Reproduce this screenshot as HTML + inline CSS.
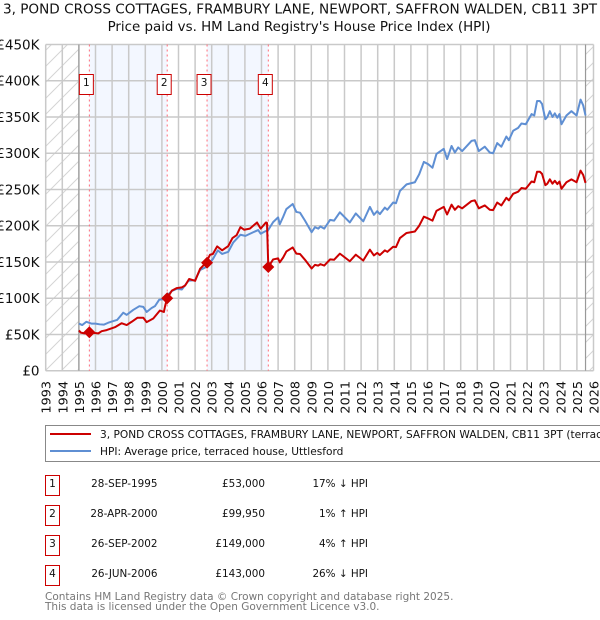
<!DOCTYPE html>
<html>
<head>
<meta charset="utf-8">
<title>Price paid vs. HPI</title>
<style>
html,body{margin:0;padding:0;background:#fff;}
body{width:600px;height:620px;overflow:hidden;position:relative;font-family:"DejaVu Sans","Liberation Sans",sans-serif;}
svg{position:absolute;left:0;top:0;}
text{font-family:"DejaVu Sans","Liberation Sans",sans-serif;fill:#111;}
</style>
</head>
<body>
<svg id="chart" width="600" height="620" viewBox="0 0 600 620" xmlns="http://www.w3.org/2000/svg">
  <defs>
    <pattern id="hatch" patternUnits="userSpaceOnUse" width="16" height="16">
      <path d="M-2 18L18 -2M-2 2L2 -2M14 18L18 14" stroke="#d4d4d4" stroke-width="1" fill="none"/>
    </pattern>
  </defs>
  <text x="300" y="13.5" text-anchor="middle" font-size="13.6">3, POND CROSS COTTAGES, FRAMBURY LANE, NEWPORT, SAFFRON WALDEN, CB11 3PT</text>
  <text x="299" y="31" text-anchor="middle" font-size="13.4">Price paid vs. HM Land Registry's House Price Index (HPI)</text>
  <g id="bands"></g>
  <g id="hatches"></g>
  <g id="grid"></g>
  <g id="ticks"></g>
  <g id="saleLines"></g>
  <g id="series"></g>
  <g id="markers"></g>

  <g>
    <rect x="45.5" y="425.5" width="560" height="36" fill="#fff" stroke="#888" stroke-width="1"/>
    <line x1="50" y1="434" x2="91" y2="434" stroke="#cc0000" stroke-width="2"/>
    <text x="100" y="438" font-size="10.6">3, POND CROSS COTTAGES, FRAMBURY LANE, NEWPORT, SAFFRON WALDEN, CB11 3PT (terraced house)</text>
    <line x1="50" y1="451" x2="91" y2="451" stroke="#5f8fd3" stroke-width="2"/>
    <text x="100" y="455" font-size="10.6">HPI: Average price, terraced house, Uttlesford</text>
  </g>

  <g>
    <g>
      <rect x="45.5" y="475.5" width="14" height="20" fill="#fff" stroke="#cc0000"/>
      <text x="52.5" y="487" text-anchor="middle" font-size="10.5">1</text>
      <text x="157.5" y="487" text-anchor="end" font-size="10.4">28-SEP-1995</text>
      <text x="265" y="487" text-anchor="end" font-size="10.4">£53,000</text>
      <text x="368" y="487" text-anchor="end" font-size="10.4">17% ↓ HPI</text>
    </g>
    <g>
      <rect x="45.5" y="505.5" width="14" height="20" fill="#fff" stroke="#cc0000"/>
      <text x="52.5" y="517" text-anchor="middle" font-size="10.5">2</text>
      <text x="157.5" y="517" text-anchor="end" font-size="10.4">28-APR-2000</text>
      <text x="265" y="517" text-anchor="end" font-size="10.4">£99,950</text>
      <text x="368" y="517" text-anchor="end" font-size="10.4">1% ↑ HPI</text>
    </g>
    <g>
      <rect x="45.5" y="535.5" width="14" height="20" fill="#fff" stroke="#cc0000"/>
      <text x="52.5" y="547" text-anchor="middle" font-size="10.5">3</text>
      <text x="157.5" y="547" text-anchor="end" font-size="10.4">26-SEP-2002</text>
      <text x="265" y="547" text-anchor="end" font-size="10.4">£149,000</text>
      <text x="368" y="547" text-anchor="end" font-size="10.4">4% ↑ HPI</text>
    </g>
    <g>
      <rect x="45.5" y="565.5" width="14" height="20" fill="#fff" stroke="#cc0000"/>
      <text x="52.5" y="577" text-anchor="middle" font-size="10.5">4</text>
      <text x="157.5" y="577" text-anchor="end" font-size="10.4">26-JUN-2006</text>
      <text x="265" y="577" text-anchor="end" font-size="10.4">£143,000</text>
      <text x="368" y="577" text-anchor="end" font-size="10.4">26% ↓ HPI</text>
    </g>
  </g>
  <text x="45" y="600" font-size="10.5" style="fill:#777">Contains HM Land Registry data © Crown copyright and database right 2025.</text>
  <text x="45" y="610" font-size="10.5" style="fill:#777">This data is licensed under the Open Government Licence v3.0.</text>
</svg>
<script>
var yearTicks = [1993,1994,1995,1996,1997,1998,1999,2000,2001,2002,2003,2004,2005,2006,2007,2008,2009,2010,2011,2012,2013,2014,2015,2016,2017,2018,2019,2020,2021,2022,2023,2024,2025,2026];
var valueTicks = [0,50000,100000,150000,200000,250000,300000,350000,400000,450000];
var valueTickLabels = ["£0","£50K","£100K","£150K","£200K","£250K","£300K","£350K","£400K","£450K"];

var hpiYears = [1995.0,1995.2,1995.45,1995.75,1996.0,1996.25,1996.5,1996.75,1997.0,1997.3,1997.67,1997.88,1998.28,1998.64,1998.88,1999.08,1999.38,1999.58,1999.84,2000.08,2000.27,2000.6,2000.9,2001.2,2001.6,2002.0,2002.3,2002.66,2003.07,2003.37,2003.63,2004.0,2004.3,2004.73,2005.03,2005.5,2005.8,2005.95,2006.2,2006.4,2006.7,2007.0,2007.1,2007.3,2007.5,2007.88,2008.1,2008.32,2008.62,2009.02,2009.22,2009.42,2009.55,2009.78,2010.13,2010.37,2010.72,2011.32,2011.68,2012.13,2012.53,2012.77,2012.97,2013.13,2013.43,2013.58,2013.93,2014.1,2014.34,2014.74,2015.24,2015.5,2015.78,2016.04,2016.3,2016.54,2016.98,2017.18,2017.45,2017.65,2017.85,2018.09,2018.65,2018.85,2019.09,2019.45,2019.75,2019.95,2020.2,2020.45,2020.75,2020.9,2021.16,2021.46,2021.66,2021.92,2022.27,2022.43,2022.6,2022.77,2022.9,2023.1,2023.22,2023.37,2023.53,2023.67,2023.82,2023.95,2024.07,2024.37,2024.67,2024.98,2025.22,2025.38,2025.52];
var hpiValues = [65000,63000,67500,65000,65000,64000,63500,66000,68000,70000,80000,77000,84000,89000,88000,81000,86500,89000,98000,98500,103000,110000,113000,112000,124000,125000,139000,143000,154000,166000,161000,164000,177000,187500,186000,191000,194000,189000,192000,194000,205000,211500,202000,212000,223000,230000,219000,218000,207000,191000,198000,196000,199000,196000,208000,207000,218500,204500,217000,206000,226000,215000,220000,216000,225000,222000,232000,231000,248000,257000,260000,271000,288000,285000,280000,299000,306000,292000,310000,301000,308000,303000,317000,318000,303000,309000,301000,300000,314000,309000,323000,318000,331000,335000,341000,340000,354000,352000,372000,372000,368000,347000,350000,358000,350000,355000,349000,354000,340000,352000,358000,352000,374000,366000,352000];

var priceYears = [1995.0,1995.12,1995.33,1995.63,1995.95,1996.17,1996.37,1996.67,1997.17,1997.57,1997.88,1998.18,1998.52,1998.88,1999.08,1999.48,1999.88,2000.12,2000.2,2000.32,2000.6,2000.9,2001.2,2001.4,2001.64,2002.0,2002.3,2002.66,2002.9,2003.07,2003.33,2003.63,2004.0,2004.25,2004.5,2004.73,2004.95,2005.3,2005.73,2005.95,2006.27,2006.33,2006.41,2006.7,2007.0,2007.1,2007.3,2007.5,2007.88,2008.1,2008.32,2008.62,2009.02,2009.22,2009.42,2009.55,2009.78,2010.13,2010.37,2010.72,2011.32,2011.68,2012.13,2012.53,2012.77,2012.97,2013.13,2013.43,2013.58,2013.93,2014.1,2014.34,2014.74,2015.24,2015.5,2015.78,2016.04,2016.3,2016.54,2016.98,2017.18,2017.45,2017.65,2017.85,2018.09,2018.65,2018.85,2019.09,2019.45,2019.75,2019.95,2020.2,2020.45,2020.75,2020.9,2021.16,2021.46,2021.66,2021.92,2022.27,2022.43,2022.6,2022.77,2022.9,2023.1,2023.22,2023.37,2023.53,2023.67,2023.82,2023.95,2024.07,2024.37,2024.67,2024.98,2025.22,2025.38,2025.52];
var priceValues = [55500,52500,51500,53000,52000,51500,54500,56000,60000,65500,63000,67500,73000,73000,67000,72000,83000,81000,90000,99950,110500,114000,115000,117500,126500,124000,140500,149000,160000,161000,171500,166000,172000,183000,187000,198000,194500,196000,204500,196000,204500,204000,143000,153500,155000,149500,156000,164500,170000,161500,161000,153000,141000,146000,145000,147000,145000,153500,153000,161500,151000,160000,152000,167000,159000,162500,159500,166000,164000,171000,170500,183000,190000,192000,200000,212500,210000,207000,220500,226000,215500,229000,222000,227000,224000,234000,235000,224000,228000,222000,221500,232000,228000,238500,235000,244000,247000,252000,251000,261000,260000,274500,274500,271500,256000,258000,264000,258000,262000,257500,261000,251000,260000,264000,260000,276000,270000,259000];

var saleNumbers = ["1","2","3","4"];
var saleYears = [1995.63,2000.32,2002.72,2006.41];
var salePrices = [53000,99950,149000,143000];
var dataStartYear = 1995;
var dataEndYear = 2025.52;

var NS = "http://www.w3.org/2000/svg";
var plotLeft = 45.7, plotRight = 593.5, plotTop = 44.5, plotBottom = 370.7;
var hatchColor = "url(#hatch)";
function xScale(year){ return plotLeft + (year - yearTicks[0]) / (yearTicks[yearTicks.length-1] - yearTicks[0]) * (plotRight - plotLeft); }
function yScale(v){ return plotBottom - v / valueTicks[valueTicks.length-1] * (plotBottom - plotTop); }
function make(tag, parent, attrs){
  var el = document.createElementNS(NS, tag);
  for (var k in attrs) el.setAttribute(k, attrs[k]);
  parent.appendChild(el);
  return el;
}
function pathFrom(xs, ys){
  var d = "";
  for (var i = 0; i < xs.length; i++) d += (i ? "L" : "M") + xScale(xs[i]).toFixed(2) + " " + yScale(ys[i]).toFixed(2);
  return d;
}

var bandsG = document.getElementById("bands");
for (var b = 0; b + 1 < saleYears.length; b += 2) {
  var band = make("rect", bandsG, {x: xScale(saleYears[b]), y: plotTop, width: xScale(saleYears[b+1]) - xScale(saleYears[b]), height: plotBottom - plotTop, fill: "#f3f7ff"});
  
  
}

var hatchG = document.getElementById("hatches");
var hatchL = make("rect", hatchG, {x: plotLeft, y: plotTop, width: xScale(dataStartYear) - plotLeft, height: plotBottom - plotTop, fill: hatchColor});


var hatchR = make("rect", hatchG, {x: xScale(dataEndYear), y: plotTop, width: plotRight - xScale(dataEndYear), height: plotBottom - plotTop, fill: hatchColor});



var gridG = document.getElementById("grid");
var ticksG = document.getElementById("ticks");
yearTicks.forEach(function(yr){
  var x = xScale(yr);
  var gl = make("line", gridG, {x1: x, x2: x, y1: plotTop, y2: plotBottom, stroke: "#c9c9c9", "stroke-width": 1.5});
  
  
  var t = make("text", ticksG, {x: 0, y: 0, "font-size": 12.8, "text-anchor": "end", transform: "translate(" + (x + 5) + ",381) rotate(-90)"});
  
  
  t.textContent = yr;
});
valueTicks.forEach(function(v, i){
  var y = yScale(v);
  var gl = make("line", gridG, {x1: plotLeft, x2: plotRight, y1: y, y2: y, stroke: "#c9c9c9", "stroke-width": 1.5});
  
  
  var t = make("text", ticksG, {x: 39.5, y: y + 5, "font-size": 13.5, "text-anchor": "end"});
  
  
  t.textContent = valueTickLabels[i];
});
[dataStartYear, dataEndYear].forEach(function(yr){
  var edge = make("line", gridG, {x1: xScale(yr), x2: xScale(yr), y1: plotTop, y2: plotBottom, stroke: "#999", "stroke-width": 1.2});
  
  
});

var saleG = document.getElementById("saleLines");
var markG = document.getElementById("markers");
var seriesG = document.getElementById("series");

var hpiLine = make("path", seriesG, {d: pathFrom(hpiYears, hpiValues), fill: "none", stroke: "#5f8fd3", "stroke-width": 2, "stroke-linejoin": "round"});


var priceLine = make("path", seriesG, {d: pathFrom(priceYears, priceValues), fill: "none", stroke: "#cc0000", "stroke-width": 2, "stroke-linejoin": "round"});



saleYears.forEach(function(yr, i){
  var x = xScale(yr), y = yScale(salePrices[i]);
  var dl = make("line", saleG, {x1: x, x2: x, y1: plotTop, y2: plotBottom, stroke: "#ff6b78", "stroke-width": 1, "stroke-dasharray": "2 3"});
  
  
  var dm = make("path", markG, {d: "M" + (x - 6) + " " + y + "L" + x + " " + (y - 6) + "L" + (x + 6) + " " + y + "L" + x + " " + (y + 6) + "Z", fill: "#cc0000"});
  
  
  var box = make("rect", markG, {x: x - 10, y: 74.5, width: 14, height: 20, fill: "#fff", stroke: "#cc0000", "stroke-width": 1});
  
  
  var lab = make("text", markG, {x: x - 3, y: 86, "font-size": 10.5, "text-anchor": "middle"});
  
  
  lab.textContent = saleNumbers[i];
});
</script>
</body>
</html>
